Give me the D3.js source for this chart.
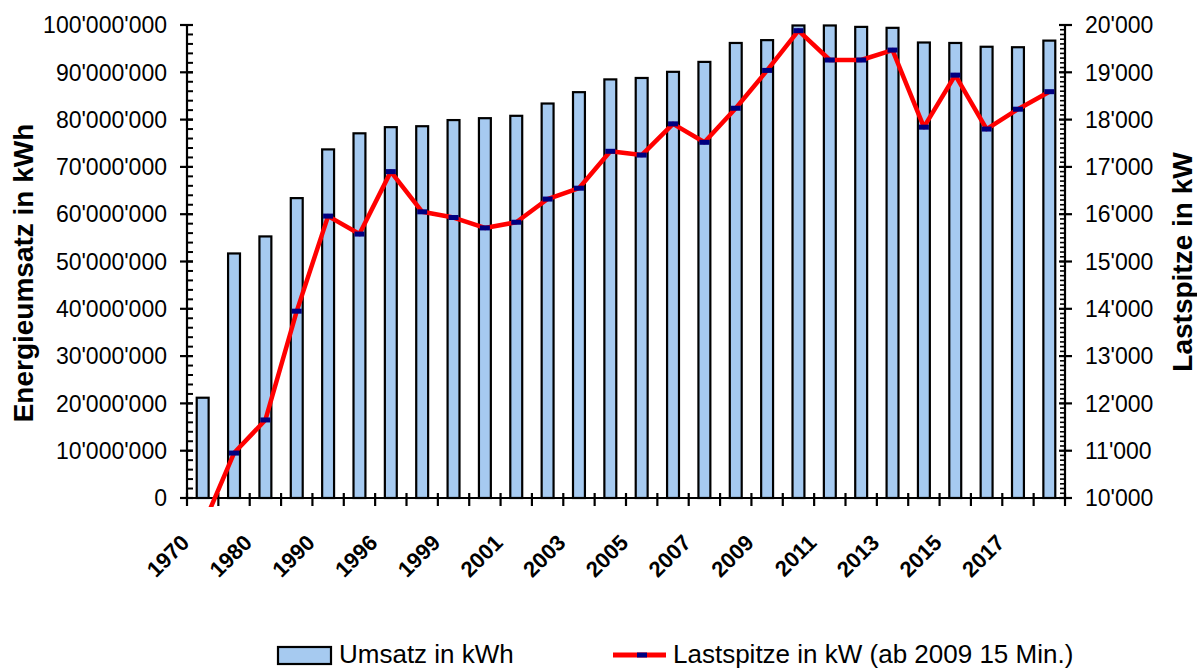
<!DOCTYPE html>
<html>
<head>
<meta charset="utf-8">
<script src="https://cdn.jsdelivr.net/npm/d3@7"></script>
<style>
  body { margin: 0; background: #fff; }
  text { font-family: "Liberation Sans", Arial, sans-serif; fill: #000; }
</style>
</head>
<body>
<svg id="chart"></svg>
<script>
// categories (every other one is labelled on the axis)
const years = ["1970","1975","1980","1985","1990","1995","1996","1997","1999","2000",
    "2001","2002","2003","2004","2005","2006","2007","2008","2009","2010",
    "2011","2012","2013","2014","2015","2016","2017","2018"];
const yearLabels = ["1970","","1980","","1990","","1996","","1999","",
    "2001","","2003","","2005","","2007","","2009","",
    "2011","","2013","","2015","","2017",""];
// Umsatz in kWh
const umsatz = [21200000, 51700000, 55300000, 63400000, 73700000, 77100000, 78400000, 78600000, 79900000, 80300000,
    80800000, 83400000, 85800000, 88500000, 88800000, 90100000, 92200000, 96200000, 96800000, 99900000,
    99900000, 99600000, 99400000, 96300000, 96200000, 95400000, 95300000, 96700000];
// Lastspitze in kW
const lastspitze = [9400, 10950, 11650, 13950, 15960, 15580, 16900, 16050, 15930, 15710,
    15830, 16320, 16550, 17330, 17250, 17910, 17520, 18240, 19040, 19880,
    19260, 19260, 19470, 17840, 18940, 17800, 18220, 18590];
const leftTicks = [0, 10e6, 20e6, 30e6, 40e6, 50e6, 60e6, 70e6, 80e6, 90e6, 100e6];
const rightTicks = [10000, 11000, 12000, 13000, 14000, 15000, 16000, 17000, 18000, 19000, 20000];

const svgWidth = 1197, svgHeight = 670;
const plot = {left: 187, right: 1065, top: 25, bottom: 498};

const svg = d3.select("#chart")
    .attr("width", svgWidth)
    .attr("height", svgHeight);

var fmt = function(v){ return d3.format(",")(v).replace(/,/g, "'"); };

var xScale = d3.scaleBand().domain(years)
    .range([plot.left, plot.right])
    .paddingInner(0.62).paddingOuter(0.31);
var step = xScale.step();
var yLeft = d3.scaleLinear().domain([0, 100e6]).range([plot.bottom, plot.top]);
var yRight = d3.scaleLinear().domain([10000, 20000]).range([plot.bottom, plot.top]);

svg.append("defs").append("clipPath").attr("id", "clip")
  .append("rect")
    .attr("x", plot.left).attr("y", plot.top - 10)
    .attr("width", plot.right - plot.left).attr("height", plot.bottom - plot.top + 19);

// bars
svg.append("g").selectAll("rect")
    .data(umsatz)
    .join("rect")
    .attr("x", (d, i) => xScale(years[i]))
    .attr("y", d => yLeft(d))
    .attr("width", xScale.bandwidth())
    .attr("height", d => yLeft(0) - yLeft(d))
    .attr("fill", "#A6CAF0")
    .attr("stroke", "#000")
    .attr("stroke-width", 2.2);

// left axis
var gl = svg.append("g");
gl.append("line").attr("x1", plot.left).attr("x2", plot.left)
    .attr("y1", plot.top).attr("y2", plot.bottom).attr("stroke", "#000").attr("stroke-width", 2.2);
gl.selectAll(".minor").data(d3.range(0, 100e6 + 1, 2e6)).join("line")
    .attr("x1", plot.left).attr("x2", plot.left + 6)
    .attr("y1", d => yLeft(d)).attr("y2", d => yLeft(d))
    .attr("stroke", "#000").attr("stroke-width", 2);
gl.selectAll(".major").data(leftTicks).join("line")
    .attr("x1", plot.left - 7).attr("x2", plot.left + 6)
    .attr("y1", d => yLeft(d)).attr("y2", d => yLeft(d))
    .attr("stroke", "#000").attr("stroke-width", 2.2);
gl.selectAll("text").data(leftTicks).join("text")
    .attr("x", plot.left - 20).attr("y", d => yLeft(d))
    .attr("dy", "0.36em")
    .attr("text-anchor", "end")
    .style("font-size", "23px")
    .text(fmt);

// right axis
var gr = svg.append("g");
gr.append("line").attr("x1", plot.right).attr("x2", plot.right)
    .attr("y1", plot.top).attr("y2", plot.bottom).attr("stroke", "#000").attr("stroke-width", 2.2);
gr.selectAll(".minor").data(d3.range(10000, 20001, 100)).join("line")
    .attr("x1", plot.right - 5).attr("x2", plot.right)
    .attr("y1", d => yRight(d)).attr("y2", d => yRight(d))
    .attr("stroke", "#000").attr("stroke-width", 1.6);
gr.selectAll(".major").data(rightTicks).join("line")
    .attr("x1", plot.right - 6).attr("x2", plot.right + 7)
    .attr("y1", d => yRight(d)).attr("y2", d => yRight(d))
    .attr("stroke", "#000").attr("stroke-width", 2.2);
gr.selectAll("text").data(rightTicks).join("text")
    .attr("x", plot.right + 20).attr("y", d => yRight(d))
    .attr("dy", "0.36em")
    .style("font-size", "23px")
    .text(fmt);

// x axis
var gx = svg.append("g");
gx.append("line").attr("x1", plot.left - 7).attr("x2", plot.right + 7)
    .attr("y1", plot.bottom).attr("y2", plot.bottom).attr("stroke", "#000").attr("stroke-width", 2.2);
gx.selectAll(".tick").data(d3.range(years.length + 1)).join("line")
    .attr("x1", i => plot.left + i * step).attr("x2", i => plot.left + i * step)
    .attr("y1", plot.bottom - 5).attr("y2", plot.bottom + 8)
    .attr("stroke", "#000").attr("stroke-width", 2.2);
gx.selectAll("text").data(yearLabels).join("text")
    .attr("transform", (d, i) => "translate(" + (xScale(years[i]) + xScale.bandwidth() / 2 - 12) + "," + (plot.bottom + 46) + ") rotate(-45)")
    .attr("text-anchor", "end")
    .style("font-size", "22px")
    .style("font-weight", "bold")
    .text(d => d);

// line series
var valueline = d3.line()
    .x((d, i) => xScale(years[i]) + xScale.bandwidth() / 2)
    .y(d => yRight(d));
var gline = svg.append("g").attr("clip-path", "url(#clip)");
gline.append("path")
    .datum(lastspitze)
    .attr("d", valueline)
    .attr("fill", "none")
    .attr("stroke", "#FF0000")
    .attr("stroke-width", 4.5)
    .attr("stroke-linejoin", "round");
gline.selectAll("rect").data(lastspitze).join("rect")
    .attr("x", (d, i) => xScale(years[i]) + xScale.bandwidth() / 2 - 5)
    .attr("y", d => yRight(d) - 2.5)
    .attr("width", 10).attr("height", 5)
    .attr("fill", "#000080");

// axis titles
svg.append("text")
    .attr("transform", "translate(33,273) rotate(-90)")
    .attr("text-anchor", "middle")
    .style("font-size", "28px").style("font-weight", "bold")
    .text("Energieumsatz in kWh");
svg.append("text")
    .attr("transform", "translate(1192,262) rotate(-90)")
    .attr("text-anchor", "middle")
    .style("font-size", "28px").style("font-weight", "bold")
    .text("Lastspitze in kW");

// legend
var lg = svg.append("g");
lg.append("rect").attr("x", 278).attr("y", 647).attr("width", 53).attr("height", 17)
    .attr("fill", "#A6CAF0").attr("stroke", "#000").attr("stroke-width", 2.2);
lg.append("text").attr("x", 339).attr("y", 663).style("font-size", "26px").text("Umsatz in kWh");
lg.append("line").attr("x1", 613).attr("x2", 666).attr("y1", 655).attr("y2", 655)
    .attr("stroke", "#FF0000").attr("stroke-width", 5);
lg.append("rect").attr("x", 637).attr("y", 652.5).attr("width", 10).attr("height", 5).attr("fill", "#000080");
lg.append("text").attr("x", 673).attr("y", 663).style("font-size", "26px").text("Lastspitze in kW (ab 2009 15 Min.)");
</script>
</body>
</html>
